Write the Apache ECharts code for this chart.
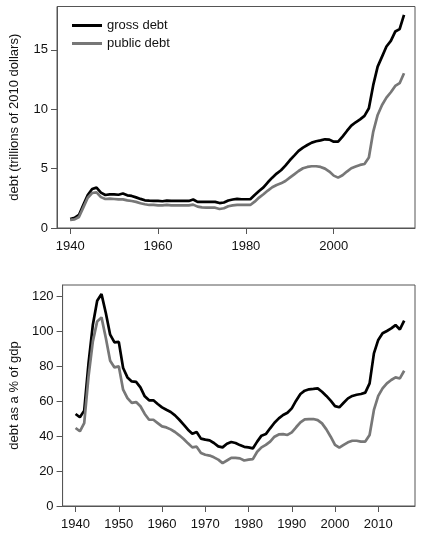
<!DOCTYPE html>
<html>
<head>
<meta charset="utf-8">
<script src="https://cdn.jsdelivr.net/npm/echarts@6/dist/echarts.min.js"></script>
<style>
  html, body { margin: 0; padding: 0; background: #fff; }
  #chart { width: 422px; height: 534px; }
</style>
</head>
<body>
<div id="chart"></div>
<script>
var years = [1940, 1941, 1942, 1943, 1944, 1945, 1946, 1947, 1948, 1949,
  1950, 1951, 1952, 1953, 1954, 1955, 1956, 1957, 1958, 1959,
  1960, 1961, 1962, 1963, 1964, 1965, 1966, 1967, 1968, 1969,
  1970, 1971, 1972, 1973, 1974, 1975, 1976, 1977, 1978, 1979,
  1980, 1981, 1982, 1983, 1984, 1985, 1986, 1987, 1988, 1989,
  1990, 1991, 1992, 1993, 1994, 1995, 1996, 1997, 1998, 1999,
  2000, 2001, 2002, 2003, 2004, 2005, 2006, 2007, 2008, 2009,
  2010, 2011, 2012, 2013, 2014, 2015, 2016];

// trillions of 2010 dollars
var grossDebt = [0.75, 0.85, 1.1, 1.95, 2.78, 3.28, 3.4, 2.98, 2.78, 2.83,
  2.83, 2.8, 2.9, 2.75, 2.7, 2.58, 2.45, 2.33, 2.3, 2.28,
  2.28, 2.25, 2.3, 2.28, 2.28, 2.28, 2.28, 2.28, 2.4, 2.2,
  2.2, 2.2, 2.2, 2.2, 2.1, 2.15, 2.32, 2.4, 2.45, 2.42,
  2.42, 2.42, 2.78, 3.12, 3.42, 3.85, 4.24, 4.58, 4.86, 5.25,
  5.7, 6.09, 6.49, 6.77, 6.99, 7.19, 7.3, 7.38, 7.47, 7.44,
  7.27, 7.27, 7.7, 8.17, 8.62, 8.9, 9.15, 9.44, 10.08, 12.05,
  13.59, 14.43, 15.28, 15.75, 16.54, 16.74, 17.94];
var publicDebt = [0.68, 0.72, 0.93, 1.74, 2.55, 2.95, 3.0, 2.6, 2.44, 2.47,
  2.44, 2.41, 2.41, 2.33, 2.27, 2.2, 2.08, 2.0, 1.94, 1.94,
  1.91, 1.91, 1.94, 1.91, 1.91, 1.91, 1.91, 1.91, 1.97, 1.8,
  1.74, 1.71, 1.71, 1.71, 1.6, 1.66, 1.83, 1.91, 1.94, 1.94,
  1.94, 1.94, 2.22, 2.56, 2.84, 3.15, 3.43, 3.62, 3.76, 3.96,
  4.24, 4.52, 4.8, 5.03, 5.14, 5.2, 5.2, 5.14, 5.0, 4.75,
  4.41, 4.24, 4.44, 4.75, 5.03, 5.17, 5.31, 5.39, 5.93, 8.12,
  9.52, 10.36, 10.98, 11.43, 11.96, 12.19, 13.03];

// percent of gdp
var grossPct = [52.6, 50.7, 54.5, 81.7, 103.6, 117.3, 121.1, 110.3, 97.9, 93.5,
  93.8, 78.9, 73.5, 71.2, 70.9, 67.8, 62.7, 60.4, 60.4, 58.3,
  56.4, 55.0, 53.7, 51.8, 49.3, 46.5, 43.6, 41.3, 42.3, 38.5,
  37.9, 37.5, 36.0, 34.1, 33.5, 35.6, 36.6, 36.0, 34.8, 33.8,
  33.5, 32.9, 36.8, 40.2, 41.1, 44.4, 47.6, 50.1, 52.0, 53.3,
  55.8, 60.2, 64.0, 65.9, 66.7, 66.9, 67.2, 65.3, 62.9, 60.2,
  57.1, 56.4, 59.0, 61.5, 62.9, 63.6, 64.0, 64.8, 70.1, 87.2,
  94.9, 98.7, 100.0, 101.5, 103.4, 100.9, 105.9];
var publicPct = [44.6, 42.7, 47.4, 74.1, 94.1, 105.5, 107.8, 96.0, 83.0, 79.2,
  79.8, 66.5, 61.7, 58.9, 59.4, 57.0, 52.6, 49.3, 49.3, 47.4,
  45.5, 44.9, 43.8, 42.3, 40.4, 38.3, 35.8, 33.5, 33.9, 30.3,
  29.3, 28.8, 27.8, 26.5, 24.5, 26.0, 27.5, 27.5, 27.2, 26.0,
  26.5, 26.8, 31.0, 33.5, 34.9, 36.8, 39.6, 40.9, 41.1, 40.6,
  42.1, 45.0, 47.8, 49.5, 49.7, 49.7, 49.1, 47.2, 43.8, 39.6,
  34.9, 33.3, 34.9, 36.4, 37.3, 37.3, 36.8, 36.8, 40.6, 54.9,
  62.9, 67.2, 70.1, 72.0, 73.5, 72.9, 77.3];

var topXTicks = [1940, 1960, 1980, 2000];
var bottomXTicks = [1940, 1950, 1960, 1970, 1980, 1990, 2000, 2010];
var topYTicks = [0, 5, 10, 15];
var bottomYTicks = [0, 20, 40, 60, 80, 100, 120];

var seriesNames = ['gross debt', 'public debt'];

function pairs(xs, ys) {
  return xs.map(function (x, i) { return [x, ys[i]]; });
}

var FONT = 'Liberation Sans, Arial, Helvetica, sans-serif';
var AXIS_COLOR = '#555';

function xAxisFor(gridIndex, ticks) {
  return {
    gridIndex: gridIndex,
    type: 'value',
    min: 1937,
    max: 2018.5,
    axisLine: { show: true, onZero: false, lineStyle: { color: AXIS_COLOR, width: 1 } },
    axisTick: { show: true, inside: false, length: 6, customValues: ticks, lineStyle: { color: AXIS_COLOR } },
    axisLabel: {
      customValues: ticks, margin: 12, color: '#111', fontSize: 13, fontFamily: FONT,
      formatter: function (v) { return String(v); }  // no thousands comma
    },
    splitLine: { show: false }
  };
}

function yAxisFor(gridIndex, max, ticks, name, gap) {
  return {
    gridIndex: gridIndex,
    type: 'value',
    min: 0,
    max: max,
    name: name,
    nameLocation: 'middle',
    nameGap: gap,
    nameTextStyle: { color: '#111', fontSize: 13, fontFamily: FONT },
    axisLine: { show: true, lineStyle: { color: AXIS_COLOR, width: 1 } },
    axisTick: { show: true, inside: false, length: 6, customValues: ticks, lineStyle: { color: AXIS_COLOR } },
    axisLabel: { customValues: ticks, margin: 9, color: '#111', fontSize: 13, fontFamily: FONT },
    splitLine: { show: false }
  };
}

function lineSeries(name, xi, yi, data, color) {
  return {
    name: name,
    type: 'line',
    xAxisIndex: xi,
    yAxisIndex: yi,
    data: data,
    symbol: 'none',
    smooth: false,
    animation: false,
    lineStyle: { color: color, width: 2.7 },
    itemStyle: { color: color }
  };
}

var myChart = echarts.init(document.getElementById('chart'));
var option = {
  backgroundColor: '#fff',
  animation: false,
  legend: {
    data: seriesNames,
    orient: 'vertical',
    left: 67,
    top: 14,
    icon: 'rect',
    itemWidth: 30,
    itemHeight: 3,
    itemGap: 5,
    textStyle: { color: '#111', fontSize: 13, fontFamily: FONT }
  },
  grid: [
    { left: 55, right: 7, top: 6.5, height: 221.5, show: true, borderColor: AXIS_COLOR, borderWidth: 1, backgroundColor: 'transparent' },
    { left: 55, right: 7, top: 285, height: 221, show: true, borderColor: AXIS_COLOR, borderWidth: 1, backgroundColor: 'transparent' }
  ],
  xAxis: [
    xAxisFor(0, topXTicks),
    xAxisFor(1, bottomXTicks)
  ],
  yAxis: [
    yAxisFor(0, 18.65, topYTicks, 'debt (trillions of 2010 dollars)', 36),
    yAxisFor(1, 126.3, bottomYTicks, 'debt as a % of gdp', 37)
  ],
  series: [
    lineSeries(seriesNames[0], 0, 0, pairs(years, grossDebt), '#000'),
    lineSeries(seriesNames[1], 0, 0, pairs(years, publicDebt), '#777'),
    lineSeries(seriesNames[0], 1, 1, pairs(years, grossPct), '#000'),
    lineSeries(seriesNames[1], 1, 1, pairs(years, publicPct), '#777')
  ]
};
myChart.setOption(option);
</script>
</body>
</html>
